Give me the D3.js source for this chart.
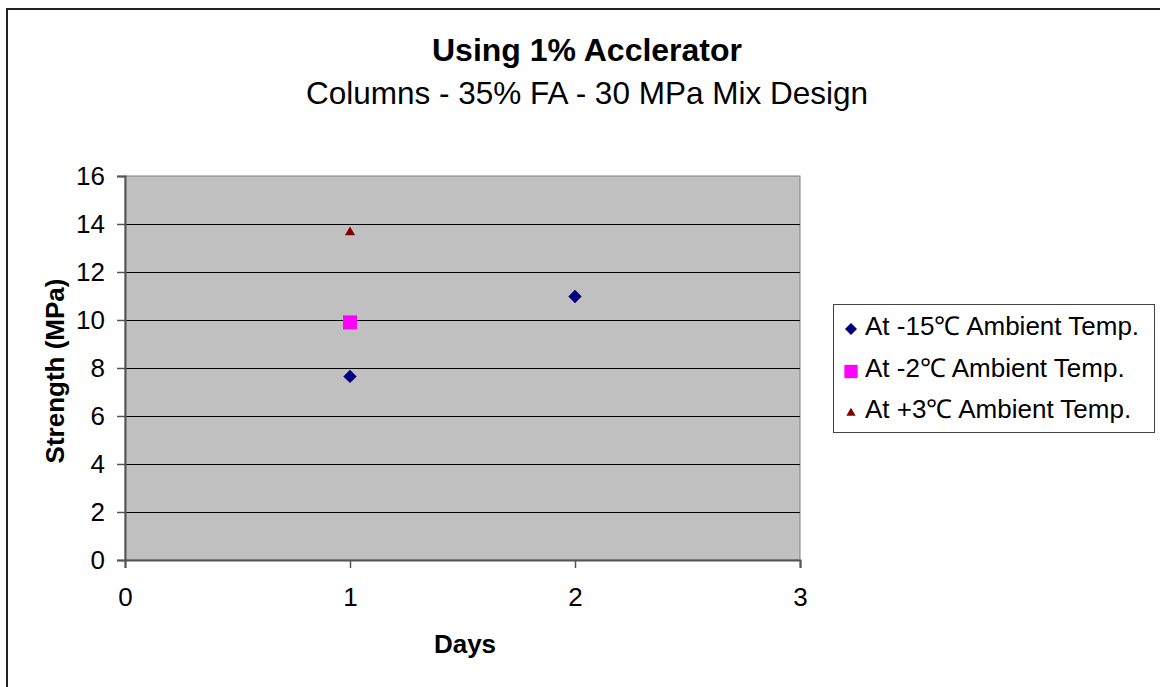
<!DOCTYPE html>
<html><head><meta charset="utf-8">
<script src="https://cdn.jsdelivr.net/npm/d3@7/dist/d3.min.js"></script>
<style>body{margin:0;background:#fff}svg{display:block}text{font-family:"Liberation Sans",Arial,sans-serif}</style>
</head><body>
<script>
const seriesNames = ["At -15\u2103 Ambient Temp.", "At -2\u2103 Ambient Temp.", "At +3\u2103 Ambient Temp."];
const s1Days = [1, 2];
const s1Strength = [7.65, 10.98];
const s2Days = [1];
const s2Strength = [9.9];
const s3Days = [1];
const s3Strength = [13.65];
const yTicks = [0, 2, 4, 6, 8, 10, 12, 14, 16];
const xTicks = [0, 1, 2, 3];

const W = 1160, H = 687;
const FONT = '"Liberation Sans",Arial,sans-serif';
const svg = d3.select("body").append("svg").attr("width", W).attr("height", H);
svg.append("rect").attr("x", 7).attr("y", 9).attr("width", W + 20).attr("height", H + 20)
  .attr("fill", "#fff").attr("stroke", "#222").attr("stroke-width", 2);

const L = 125, R = 800, T = 176, B = 560;
const x = d3.scaleLinear().domain([0, 3]).range([L, R]);
const y = d3.scaleLinear().domain([0, 16]).range([B, T]);

svg.append("rect").attr("x", L).attr("y", T).attr("width", R - L).attr("height", B - T)
  .attr("fill", "#c0c0c0").attr("stroke", "#808080").attr("stroke-width", 1);

// gridlines
svg.append("g").selectAll("line").data(yTicks.filter(d => d > 0 && d < 16)).join("line")
  .attr("x1", L).attr("x2", R).attr("y1", d => Math.round(y(d)) + 0.5).attr("y2", d => Math.round(y(d)) + 0.5)
  .attr("stroke", "#000").attr("stroke-width", 1.2);

// axes
const yAxis = d3.axisLeft(y).tickValues(yTicks).tickSize(8).tickPadding(12).tickFormat(d3.format("d"));
const gy = svg.append("g").attr("transform", `translate(${L},0)`).call(yAxis);
const xAxis = d3.axisBottom(x).tickValues(xTicks).tickSize(8).tickPadding(20).tickFormat(d3.format("d"));
const gx = svg.append("g").attr("transform", `translate(0,${B})`).call(xAxis);
[gx, gy].forEach(g => {
  g.attr("font-size", 26).attr("font-family", FONT);
  g.select(".domain").attr("stroke", "#555").attr("stroke-width", 2);
  g.selectAll(".tick line").attr("stroke", "#555").attr("stroke-width", 1.5);
  g.selectAll(".tick text").attr("fill", "#000");
});

// titles
svg.append("text").attr("x", 587).attr("y", 61).attr("text-anchor", "middle")
  .attr("font-size", 32).attr("font-weight", "bold").text("Using 1% Acclerator");
svg.append("text").attr("x", 587).attr("y", 104).attr("text-anchor", "middle")
  .attr("font-size", 31.5).text("Columns - 35% FA - 30 MPa Mix Design");
svg.append("text").attr("x", 465).attr("y", 653).attr("text-anchor", "middle")
  .attr("font-size", 26).attr("font-weight", "bold").text("Days");
svg.append("text").attr("transform", "translate(64,371) rotate(-90)").attr("text-anchor", "middle")
  .attr("font-size", 26).attr("font-weight", "bold").text("Strength (MPa)");

// markers
const series = [
  {days: s1Days, vals: s1Strength, sym: d3.symbol().type(d3.symbolDiamond2).size(113), color: "#000080"},
  {days: s2Days, vals: s2Strength, sym: d3.symbol().type(d3.symbolSquare2).size(250), color: "#ff00ff"},
  {days: s3Days, vals: s3Strength, sym: d3.symbol().type(d3.symbolTriangle2).size(75), color: "#800000"}
];
series.forEach(s => {
  svg.append("g").selectAll("path").data(s.days.map((d, i) => [d, s.vals[i]])).join("path")
    .attr("d", s.sym).attr("fill", s.color)
    .attr("transform", d => `translate(${x(d[0])},${y(d[1])})`);
});

// legend
svg.append("rect").attr("x", 833.5).attr("y", 304.5).attr("width", 321).attr("height", 128)
  .attr("fill", "#fff").attr("stroke", "#444").attr("stroke-width", 1);
const legSyms = [d3.symbol().type(d3.symbolDiamond2).size(92), d3.symbol().type(d3.symbolSquare2).size(225), d3.symbol().type(d3.symbolTriangle2).size(62)];
const legMarkY = [329, 371.5, 413];
const legTextY = [335, 376.5, 418];
seriesNames.forEach((n, i) => {
  svg.append("path").attr("d", legSyms[i]).attr("fill", series[i].color)
    .attr("transform", `translate(851,${legMarkY[i]})`);
  svg.append("text").attr("x", 865).attr("y", legTextY[i]).attr("font-size", 26).text(n);
});
</script>
</body></html>
